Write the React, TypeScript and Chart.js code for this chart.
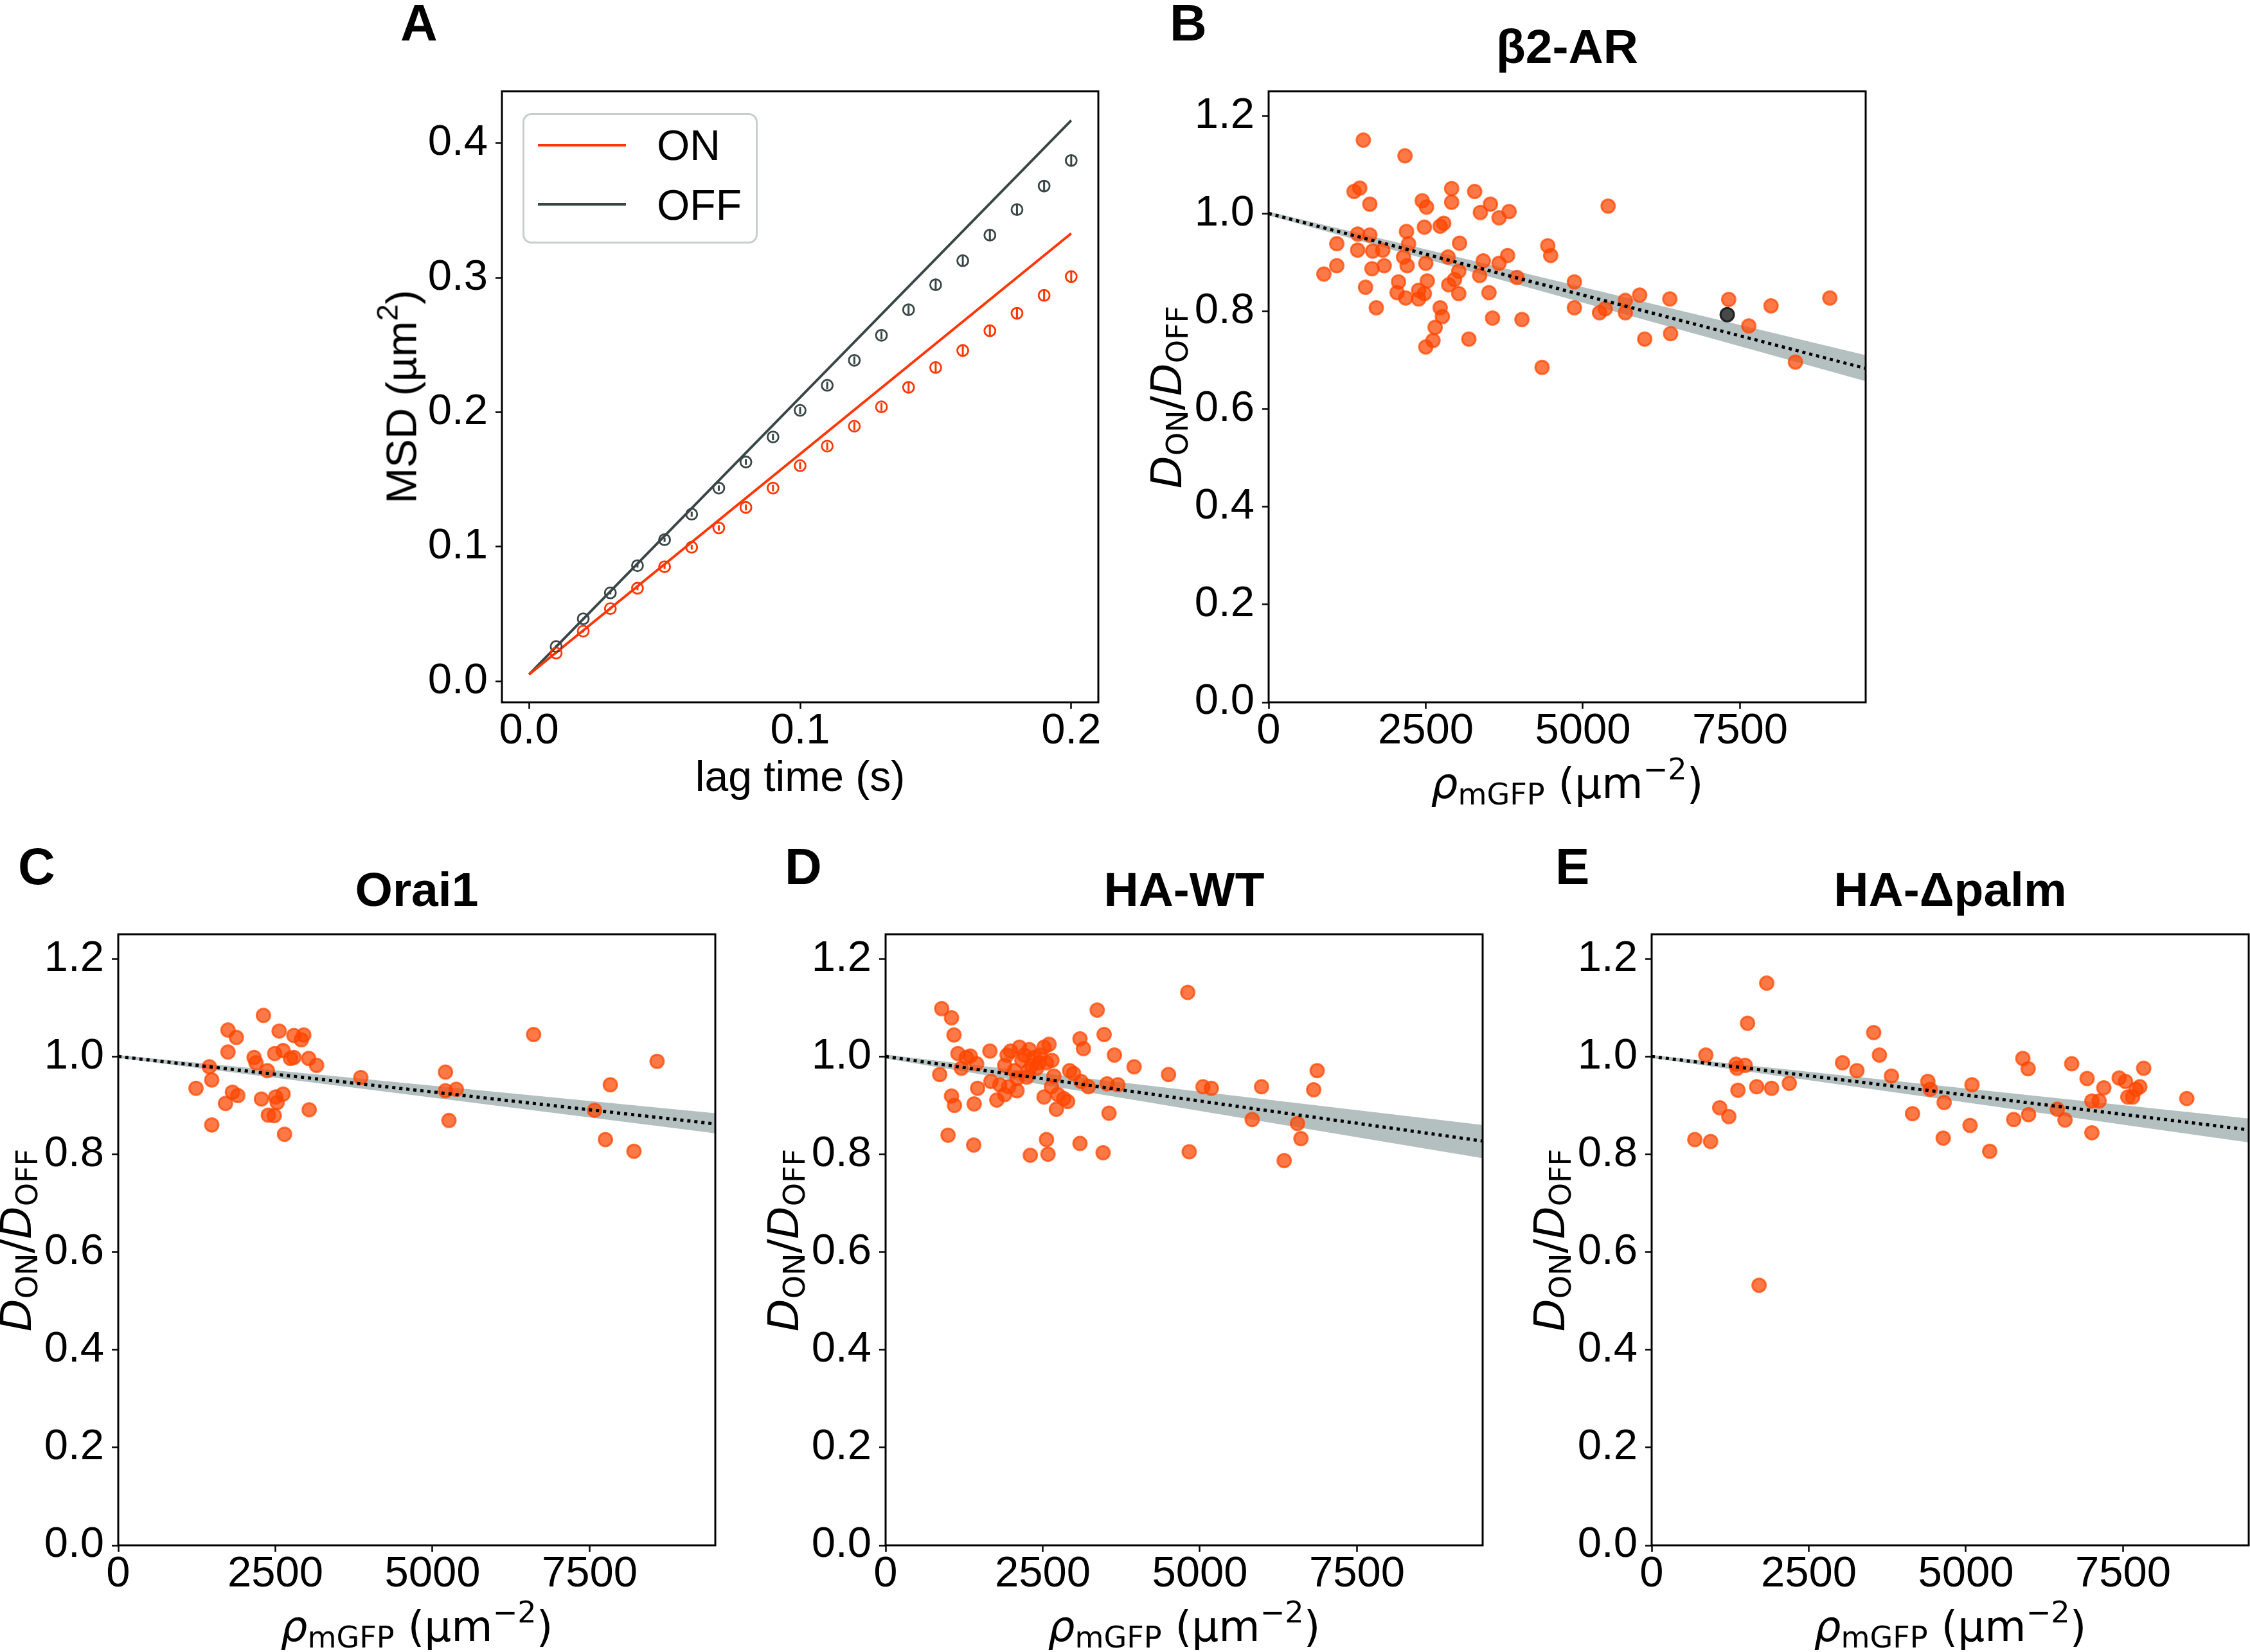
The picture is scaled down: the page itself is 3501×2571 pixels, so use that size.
import React, { useEffect, useRef } from 'react';
import { Chart, registerables } from 'chart.js';

Chart.register(...registerables);

const FONT = "'Liberation Sans', Arial, Helvetica, sans-serif";
const MATH_FONT = "'DejaVu Sans', 'Liberation Sans', sans-serif";

// ---------------- Panel A data ----------------
const lagTime = [0.01, 0.02, 0.03, 0.04, 0.05, 0.06, 0.07, 0.08, 0.09, 0.10, 0.11, 0.12, 0.13, 0.14, 0.15, 0.16, 0.17, 0.18, 0.19, 0.20];
const msdOn = [0.0209, 0.0372, 0.0540, 0.0691, 0.0851, 0.0996, 0.1140, 0.1292, 0.1436, 0.1603, 0.1748, 0.1896, 0.2040, 0.2185, 0.2333, 0.2459, 0.2606, 0.2736, 0.2869, 0.3009];
const msdOff = [0.0258, 0.0464, 0.0657, 0.0859, 0.1052, 0.1242, 0.1436, 0.1630, 0.1816, 0.2014, 0.2200, 0.2386, 0.2572, 0.2762, 0.2948, 0.3127, 0.3317, 0.3507, 0.3682, 0.3872];
const msdOnErr = [0.0008, 0.0010, 0.0012, 0.0014, 0.0016, 0.0018, 0.0020, 0.0022, 0.0024, 0.0026, 0.0028, 0.0030, 0.0031, 0.0033, 0.0035, 0.0036, 0.0038, 0.0040, 0.0041, 0.0043];
const msdOffErr = [0.0008, 0.0010, 0.0012, 0.0014, 0.0016, 0.0018, 0.0020, 0.0022, 0.0024, 0.0026, 0.0028, 0.0030, 0.0031, 0.0033, 0.0035, 0.0036, 0.0038, 0.0040, 0.0041, 0.0043];
const fitLagTime = [0, 0.2];
const fitOn = [0.005, 0.333];
const fitOff = [0.005, 0.417];
const msdXTicks = [0, 0.1, 0.2];
const msdYTicks = [0, 0.1, 0.2, 0.3, 0.4];

// ---------------- Scatter panels common ----------------
const densityTicks = [0, 2500, 5000, 7500];
const ratioTicks = [0, 0.2, 0.4, 0.6, 0.8, 1.0, 1.2];
const fitDensity = [0, 9500];

// β2-AR
const b2arDensity = [1507, 2170, 1359, 1450, 1610, 2912, 2912, 3278, 2444, 2512, 3529, 3826, 3369, 3666, 5402, 2478, 2729, 2786, 2193, 1416, 1610, 1085, 1416, 1656, 1816, 2227, 2147, 2204, 2501, 2855, 3038, 1085, 879, 1644, 1839, 1542, 1713, 2067, 2044, 2181, 2387, 2387, 2478, 2524, 2866, 2958, 3026, 3026, 3415, 3358, 3666, 3803, 3506, 3951, 2729, 2764, 2649, 2615, 2501, 3186, 3563, 4031, 4442, 4488, 4351, 4865, 4865, 5265, 5356, 5676, 5676, 5904, 5984, 6384, 6396, 7321, 7640, 7994, 8930, 8382];
const b2arRatio = [1.150, 1.118, 1.045, 1.052, 1.019, 1.051, 1.023, 1.045, 1.026, 1.013, 1.019, 1.004, 1.002, 0.991, 1.015, 0.972, 0.974, 0.980, 0.963, 0.958, 0.956, 0.938, 0.925, 0.923, 0.925, 0.938, 0.911, 0.893, 0.898, 0.911, 0.939, 0.893, 0.876, 0.887, 0.893, 0.849, 0.807, 0.860, 0.838, 0.827, 0.843, 0.825, 0.836, 0.862, 0.854, 0.865, 0.836, 0.882, 0.903, 0.873, 0.898, 0.914, 0.838, 0.869, 0.807, 0.789, 0.767, 0.740, 0.727, 0.743, 0.786, 0.783, 0.934, 0.914, 0.685, 0.860, 0.807, 0.797, 0.805, 0.822, 0.797, 0.833, 0.743, 0.825, 0.754, 0.824, 0.770, 0.811, 0.827, 0.696];
const b2arMarkedDensity = [7297];
const b2arMarkedRatio = [0.793];
const b2arFit = [1.0, 0.683];
const b2arUpper = [1.004, 0.710];
const b2arLower = [0.996, 0.657];

// Orai1
const orai1Density = [2310, 1746, 1879, 2560, 2795, 2952, 2913, 1746, 2161, 2192, 2490, 2623, 2740, 2795, 3030, 3156, 1449, 2372, 1488, 1237, 1817, 1903, 1707, 2278, 2505, 2623, 2529, 2388, 2482, 3038, 1488, 2646, 3860, 5207, 5207, 5379, 5262, 6609, 7579, 7830, 7752, 8206, 8574];
const orai1Ratio = [1.084, 1.054, 1.039, 1.052, 1.043, 1.044, 1.034, 1.009, 0.998, 0.987, 1.006, 1.012, 0.996, 0.998, 0.996, 0.982, 0.979, 0.971, 0.952, 0.935, 0.927, 0.920, 0.904, 0.913, 0.917, 0.923, 0.906, 0.880, 0.879, 0.891, 0.860, 0.841, 0.957, 0.968, 0.930, 0.933, 0.869, 1.045, 0.890, 0.942, 0.830, 0.806, 0.990];
const orai1Fit = [1.0, 0.862];
const orai1Upper = [1.003, 0.884];
const orai1Lower = [0.997, 0.843];

// HA-WT
const hawtDensity = [893, 1049, 1088, 861, 1049, 1096, 994, 1402, 1151, 1206, 1284, 1347, 1449, 1464, 1409, 1660, 1676, 1770, 1817, 1895, 1958, 1989, 2051, 2091, 2130, 2169, 2247, 2286, 2364, 2403, 2458, 2521, 2560, 2600, 2646, 2678, 2521, 2639, 2741, 2717, 2835, 2897, 2928, 2991, 2302, 2560, 2584, 3093, 3148, 3109, 3226, 3093, 3367, 3477, 3641, 3524, 3696, 3555, 3461, 3954, 4502, 4808, 4831, 5050, 5183, 5833, 5982, 6342, 6554, 6609, 6812, 6867, 1934, 2208, 2325, 2443, 2271, 2091, 1895];
const hawtRatio = [1.098, 1.079, 1.044, 0.963, 0.919, 0.900, 0.839, 0.819, 1.006, 0.976, 0.998, 1.001, 0.985, 0.935, 0.903, 1.011, 0.949, 0.911, 0.942, 0.982, 0.938, 1.011, 0.971, 0.930, 1.019, 0.992, 0.958, 1.014, 0.998, 0.976, 1.003, 1.019, 0.987, 1.025, 0.992, 0.960, 0.917, 0.938, 0.922, 0.892, 0.914, 0.908, 0.971, 0.965, 0.798, 0.830, 0.800, 1.036, 1.016, 0.949, 0.938, 0.822, 1.095, 1.045, 1.003, 0.944, 0.942, 0.884, 0.803, 0.979, 0.963, 1.131, 0.805, 0.938, 0.935, 0.871, 0.938, 0.787, 0.863, 0.832, 0.932, 0.971, 1.003, 1.003, 0.982, 0.987, 0.971, 0.955, 0.922];
const hawtFit = [1.0, 0.827];
const hawtUpper = [1.004, 0.860];
const hawtLower = [0.996, 0.792];

// HA-Δpalm
const hapalmDensity = [1831, 1526, 862, 1343, 1358, 1488, 1373, 1083, 1228, 687, 938, 1671, 1908, 2190, 1709, 3037, 3266, 3533, 3624, 3815, 4151, 4395, 4433, 4654, 4639, 5097, 5066, 5379, 5761, 5906, 5990, 5997, 6455, 6577, 6684, 6928, 7005, 7119, 7005, 7195, 7439, 7539, 7577, 7653, 7707, 7768, 7829, 8515];
const hapalmRatio = [1.150, 1.068, 1.003, 0.984, 0.976, 0.982, 0.931, 0.895, 0.877, 0.830, 0.826, 0.938, 0.935, 0.945, 0.532, 0.987, 0.971, 1.049, 1.003, 0.960, 0.883, 0.949, 0.933, 0.906, 0.833, 0.942, 0.859, 0.806, 0.871, 0.996, 0.975, 0.881, 0.892, 0.870, 0.985, 0.955, 0.909, 0.909, 0.844, 0.936, 0.956, 0.949, 0.917, 0.917, 0.933, 0.938, 0.976, 0.914];
const hapalmFit = [1.0, 0.850];
const hapalmUpper = [1.003, 0.873];
const hapalmLower = [0.997, 0.824];

// ---------------- Layout (plot-area rectangles in page pixels) ----------------
const RECT_A = { l: 781, t: 142, r: 1709, b: 1093 };
const RECT_B = { l: 1974, t: 142, r: 2903, b: 1093 };
const RECT_C = { l: 184, t: 1454, r: 1113, b: 2405 };
const RECT_D = { l: 1378, t: 1454, r: 2307, b: 2405 };
const RECT_E = { l: 2570, t: 1454, r: 3499, b: 2405 };
const PAD_L = 180, PAD_T = 60, PAD_R = 60, PAD_B = 110;

const ON_COLOR = 'rgb(255,55,5)';
const OFF_COLOR = '#3a4646';
const PT_COLOR = 'rgba(255,69,0,0.72)';
const BAND_COLOR = 'rgba(47,79,79,0.36)';

const framePlugin = {
  id: 'frame',
  afterDatasetsDraw(chart: any) {
    const { ctx, chartArea } = chart;
    ctx.save();
    ctx.strokeStyle = '#000';
    ctx.lineWidth = 3;
    ctx.strokeRect(chartArea.left, chartArea.top, chartArea.right - chartArea.left, chartArea.bottom - chartArea.top);
    ctx.restore();
  },
};

const errorBarPlugin = {
  id: 'errbars',
  afterDatasetsDraw(chart: any) {
    const { ctx } = chart;
    const ys = chart.scales.y;
    chart.data.datasets.forEach((ds: any, i: number) => {
      if (!ds.errors) return;
      const meta = chart.getDatasetMeta(i);
      ctx.save();
      ctx.strokeStyle = ds.borderColor;
      ctx.lineWidth = 3;
      meta.data.forEach((pt: any, j: number) => {
        const v = ds.data[j].y;
        const e = ds.errors[j];
        ctx.beginPath();
        ctx.moveTo(pt.x, ys.getPixelForValue(v - e));
        ctx.lineTo(pt.x, ys.getPixelForValue(v + e));
        ctx.stroke();
      });
      ctx.restore();
    });
  },
};

const zip = (xs: number[], ys: number[]) => xs.map((x, i) => ({ x, y: ys[i] }));

function axis(min: number, max: number, ticks: number[], fmt: (v: number) => string, isX: boolean) {
  return {
    type: 'linear',
    min,
    max,
    afterBuildTicks: (s: any) => {
      s.ticks = ticks.map((v) => ({ value: v }));
    },
    afterFit: (s: any) => {
      if (isX) s.height = PAD_B;
      else s.width = PAD_L;
    },
    ticks: {
      callback: (v: any) => fmt(Number(v)),
      font: { family: FONT, size: 67, lineHeight: 1 },
      color: '#000',
      padding: isX ? 2 : 12,
      autoSkip: false,
      maxRotation: 0,
      minRotation: 0,
    },
    grid: {
      display: true,
      drawOnChartArea: false,
      drawTicks: true,
      tickLength: 10,
      tickWidth: 2.5,
      tickColor: '#000',
    },
    border: { display: false },
  };
}

function baseOptions(scales: any) {
  return {
    responsive: false,
    animation: false,
    events: [],
    layout: { autoPadding: false, padding: { left: 0, top: PAD_T, right: PAD_R, bottom: 0 } },
    plugins: { legend: { display: false }, tooltip: { enabled: false }, title: { display: false } },
    scales,
  };
}

function msdConfig() {
  return {
    type: 'scatter',
    data: {
      datasets: [
        { type: 'line', data: zip(fitLagTime, fitOn), borderColor: ON_COLOR, borderWidth: 4, pointRadius: 0, order: 1 },
        { type: 'line', data: zip(fitLagTime, fitOff), borderColor: OFF_COLOR, borderWidth: 4, pointRadius: 0, order: 1 },
        { data: zip(lagTime, msdOn), errors: msdOnErr, borderColor: ON_COLOR, backgroundColor: 'rgba(0,0,0,0)', borderWidth: 2.8, pointRadius: 8.5, order: 0 },
        { data: zip(lagTime, msdOff), errors: msdOffErr, borderColor: OFF_COLOR, backgroundColor: 'rgba(0,0,0,0)', borderWidth: 2.8, pointRadius: 8.5, order: 0 },
      ],
    },
    options: baseOptions({
      x: axis(-0.01, 0.21, msdXTicks, (v) => v.toFixed(1), true),
      y: axis(-0.0157, 0.4387, msdYTicks, (v) => v.toFixed(1), false),
    }),
    plugins: [errorBarPlugin, framePlugin],
  };
}

function ratioConfig(xs: number[], ys: number[], fit: number[], upper: number[], lower: number[], markedX?: number[], markedY?: number[]) {
  const datasets: any[] = [
    { type: 'line', data: zip(fitDensity, fit), borderColor: '#000', borderWidth: 5, borderDash: [5, 6], pointRadius: 0, order: 0 },
    { data: zip(xs, ys), backgroundColor: PT_COLOR, borderColor: PT_COLOR, borderWidth: 3, pointRadius: 10.5, order: 2 },
  ];
  if (markedX && markedY) {
    datasets.push({ data: zip(markedX, markedY), backgroundColor: 'rgba(40,40,40,0.85)', borderColor: 'rgba(20,20,20,0.9)', borderWidth: 3, pointRadius: 10.5, order: 1 });
  }
  datasets.push({ type: 'line', data: zip(fitDensity, upper), borderWidth: 0, borderColor: 'rgba(0,0,0,0)', pointRadius: 0, fill: '+1', backgroundColor: BAND_COLOR, order: 3 });
  datasets.push({ type: 'line', data: zip(fitDensity, lower), borderWidth: 0, borderColor: 'rgba(0,0,0,0)', pointRadius: 0, fill: false, order: 3 });
  return {
    type: 'scatter',
    data: { datasets },
    options: baseOptions({
      x: axis(0, 9500, densityTicks, (v) => String(v), true),
      y: axis(0, 1.25, ratioTicks, (v) => v.toFixed(1), false),
    }),
    plugins: [framePlugin],
  };
}

function ChartPanel({ rect, build }: { rect: any; build: () => any }) {
  const ref = useRef<HTMLCanvasElement | null>(null);
  const width = rect.r - rect.l + PAD_L + PAD_R;
  const height = rect.b - rect.t + PAD_T + PAD_B;
  useEffect(() => {
    const chart = new Chart(ref.current as any, build() as any);
    return () => chart.destroy();
  }, []);
  return (
    <canvas
      ref={ref}
      width={width}
      height={height}
      style={{ position: 'absolute', left: rect.l - PAD_L, top: rect.t - PAD_T, width, height }}
    />
  );
}

function Txt({ x, y, size, bold, align = 'center', family = FONT, children }: any) {
  const w = 2000;
  return (
    <div
      style={{
        position: 'absolute',
        left: align === 'center' ? x - w / 2 : x,
        top: y - 0.8465 * size,
        width: align === 'center' ? w : undefined,
        textAlign: align,
        fontFamily: family,
        fontSize: size,
        fontWeight: bold ? 'bold' : 'normal',
        lineHeight: 1,
        whiteSpace: 'nowrap',
        color: '#000',
      }}
    >
      {children}
    </div>
  );
}

function VTxt({ cx, cy, size, family = FONT, children }: any) {
  return (
    <div
      style={{
        position: 'absolute',
        left: cx - 1000,
        top: cy - size / 2,
        width: 2000,
        height: size,
        lineHeight: 1,
        textAlign: 'center',
        transform: 'rotate(-90deg)',
        transformOrigin: '50% 50%',
        fontFamily: family,
        fontSize: size,
        whiteSpace: 'nowrap',
        color: '#000',
      }}
    >
      {children}
    </div>
  );
}

const Sub = ({ children }: any) => <span style={{ fontSize: '0.7em', position: 'relative', top: '0.22em' }}>{children}</span>;
const Sup = ({ children }: any) => <span style={{ fontSize: '0.7em', position: 'relative', top: '-0.62em' }}>{children}</span>;

const RatioLabel = () => (
  <>
    <i>D</i>
    <Sub>ON</Sub>/<i>D</i>
    <Sub>OFF</Sub>
  </>
);
const DensityLabel = () => (
  <>
    <i>ρ</i>
    <Sub>mGFP</Sub> (µm<Sup>−2</Sup>)
  </>
);

const LABEL = 66;
const ycenter = (r: any) => (r.t + r.b) / 2;
const xcenter = (r: any) => (r.l + r.r) / 2;
const ylabX = (r: any) => r.l - 135 - 0.3465 * LABEL;

export default function App() {
  return (
    <div style={{ position: 'absolute', left: 0, top: 0, width: 3501, height: 2571, overflow: 'hidden', background: '#fff' }}>
      <ChartPanel rect={RECT_A} build={msdConfig} />
      <ChartPanel rect={RECT_B} build={() => ratioConfig(b2arDensity, b2arRatio, b2arFit, b2arUpper, b2arLower, b2arMarkedDensity, b2arMarkedRatio)} />
      <ChartPanel rect={RECT_C} build={() => ratioConfig(orai1Density, orai1Ratio, orai1Fit, orai1Upper, orai1Lower)} />
      <ChartPanel rect={RECT_D} build={() => ratioConfig(hawtDensity, hawtRatio, hawtFit, hawtUpper, hawtLower)} />
      <ChartPanel rect={RECT_E} build={() => ratioConfig(hapalmDensity, hapalmRatio, hapalmFit, hapalmUpper, hapalmLower)} />

      {/* Legend of panel A */}
      <div style={{ position: 'absolute', left: 813, top: 176, width: 360, height: 197, border: '3px solid #c8cdcd', borderRadius: 14, background: 'rgba(255,255,255,0.8)' }} />
      <div style={{ position: 'absolute', left: 837, top: 224, width: 137, height: 4, background: ON_COLOR }} />
      <div style={{ position: 'absolute', left: 837, top: 316, width: 137, height: 4, background: OFF_COLOR }} />
      <Txt x={1022} y={249} size={66} align="left">ON</Txt>
      <Txt x={1022} y={342} size={66} align="left">OFF</Txt>

      {/* Panel letters */}
      <Txt x={623} y={64} size={80} bold align="left">A</Txt>
      <Txt x={1820} y={64} size={80} bold align="left">B</Txt>
      <Txt x={28} y={1377} size={80} bold align="left">C</Txt>
      <Txt x={1221} y={1377} size={80} bold align="left">D</Txt>
      <Txt x={2420} y={1377} size={80} bold align="left">E</Txt>

      {/* Titles */}
      <Txt x={xcenter(RECT_B)} y={98} size={75} bold>β2-AR</Txt>
      <Txt x={xcenter(RECT_C)} y={1410} size={75} bold>Orai1</Txt>
      <Txt x={xcenter(RECT_D)} y={1410} size={75} bold>HA-WT</Txt>
      <Txt x={xcenter(RECT_E)} y={1410} size={75} bold>HA-Δpalm</Txt>

      {/* Axis labels */}
      <Txt x={xcenter(RECT_A)} y={1231} size={LABEL}>lag time (s)</Txt>
      <VTxt cx={647 - 0.3465 * 67} cy={ycenter(RECT_A)} size={67}>
        MSD (µm<Sup>2</Sup>)
      </VTxt>
      <Txt x={xcenter(RECT_B)} y={1243} size={LABEL} family={MATH_FONT}><DensityLabel /></Txt>
      <Txt x={xcenter(RECT_C)} y={2555} size={LABEL} family={MATH_FONT}><DensityLabel /></Txt>
      <Txt x={xcenter(RECT_D)} y={2555} size={LABEL} family={MATH_FONT}><DensityLabel /></Txt>
      <Txt x={xcenter(RECT_E)} y={2555} size={LABEL} family={MATH_FONT}><DensityLabel /></Txt>
      <VTxt cx={ylabX(RECT_B)} cy={ycenter(RECT_B)} size={LABEL} family={MATH_FONT}><RatioLabel /></VTxt>
      <VTxt cx={ylabX(RECT_C)} cy={ycenter(RECT_C)} size={LABEL} family={MATH_FONT}><RatioLabel /></VTxt>
      <VTxt cx={ylabX(RECT_D)} cy={ycenter(RECT_D)} size={LABEL} family={MATH_FONT}><RatioLabel /></VTxt>
      <VTxt cx={ylabX(RECT_E)} cy={ycenter(RECT_E)} size={LABEL} family={MATH_FONT}><RatioLabel /></VTxt>
    </div>
  );
}
